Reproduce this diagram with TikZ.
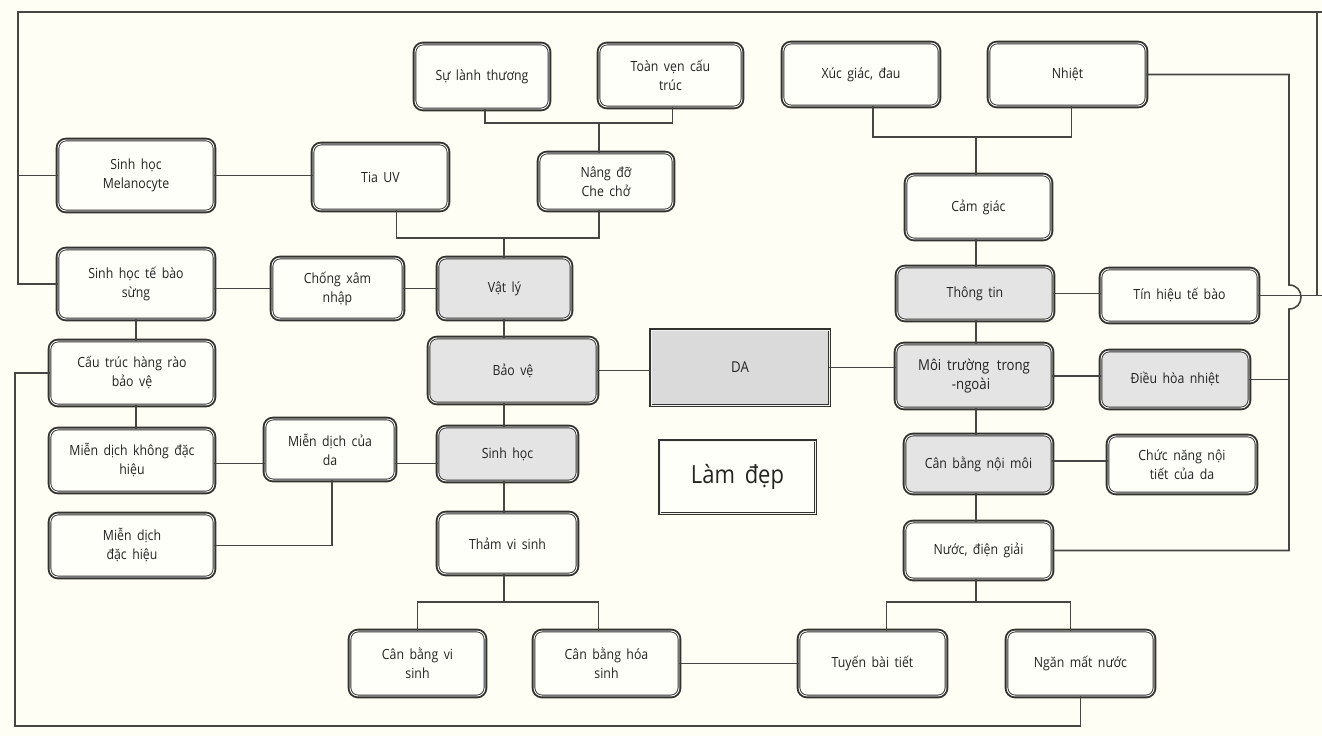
\documentclass[tikz,border=0pt]{standalone}
\usepackage{fontspec}
\setmainfont{Open Sans}[FakeStretch=0.88,WordSpace=1.7]
\definecolor{bgc}{RGB}{255,254,244}
\definecolor{linec}{RGB}{70,70,66}
\definecolor{boxc}{RGB}{50,50,47}
\definecolor{greyf}{RGB}{228,228,228}
\definecolor{daf}{RGB}{218,218,218}
\definecolor{txt}{RGB}{35,35,35}
\begin{document}
\begin{tikzpicture}[x=1pt,y=-1pt,
  box/.style={draw=boxc,line width=0.9pt,double=white!90!gray,double distance=0.9pt,
    preaction={draw=boxc,line width=4.6pt},
    rounded corners=8pt,fill=white!98!yellow,align=center,inner sep=2pt,
    font=\fontsize{14}{19}\selectfont,text=txt},
  gbox/.style={box,fill=greyf},
  sqbox/.style={box,rounded corners=0pt},
  conn/.style={draw=linec,line width=1.6pt}]
\useasboundingbox (0,0) rectangle (1322,736);
\fill[bgc] (0,0) rectangle (1322,736);

% nodes
\node[box,minimum width=134pt,minimum height=65pt] (sl) at (482,76.5) {Sự lành thương};
\node[box,minimum width=143pt,minimum height=63pt] (tv) at (670.5,75.5) {Toàn vẹn cấu\\trúc};
\node[box,minimum width=156pt,minimum height=63pt] (xg) at (861,74.5) {Xúc giác, đau};
\node[box,minimum width=157pt,minimum height=63pt] (nh) at (1067.5,74.5) {Nhiệt};
\node[box,minimum width=156pt,minimum height=71pt] (mel) at (136,175.5) {Sinh học\\Melanocyte};
\node[box,minimum width=135pt,minimum height=66pt] (uv) at (380.5,177) {Tia UV};
\node[box,minimum width=134pt,minimum height=57pt] (nd) at (606,181.5) {Nâng đỡ\\Che chở};
\node[box,minimum width=145pt,minimum height=64pt] (cg) at (978.5,207) {Cảm giác};
\node[box,minimum width=156pt,minimum height=70pt] (ker) at (136,284) {Sinh học tế bào\\sừng};
\node[box,minimum width=131pt,minimum height=61pt] (cx) at (337.5,288.5) {Chống xâm\\nhập};
\node[gbox,minimum width=133pt,minimum height=61pt] (vl) at (504.5,288.5) {Vật lý};
\node[gbox,minimum width=156pt,minimum height=53pt] (tt) at (975,293.5) {Thông tin};
\node[box,minimum width=157pt,minimum height=53pt] (th) at (1179.5,295.5) {Tín hiệu tế bào};
\node[box,minimum width=164pt,minimum height=64pt] (hr) at (132,373) {Cấu trúc hàng rào\\bảo vệ};
\node[gbox,minimum width=168pt,minimum height=65pt] (bv) at (513,370.5) {Bảo vệ};
\node[sqbox,fill=daf,minimum width=178pt,minimum height=75pt,font=\fontsize{15}{18}\selectfont] (da) at (740,367.5) {DA};
\node[gbox,minimum width=156pt,minimum height=64pt,font=\fontsize{15}{19}\selectfont] (mt) at (974,376) {Môi trường\enspace trong\\\hspace*{-6pt}-ngoài};
\node[gbox,minimum width=148pt,minimum height=57pt] (dh) at (1175,379.5) {Điều hòa nhiệt};
\node[box,minimum width=164pt,minimum height=63pt] (mk) at (132,460.5) {Miễn dịch không đặc\\hiệu};
\node[box,minimum width=130pt,minimum height=61pt] (mdd) at (330,449.5) {Miễn dịch của\\da};
\node[gbox,minimum width=139pt,minimum height=54pt] (sh) at (507.5,454) {Sinh học};
\node[sqbox,minimum width=155pt,minimum height=72pt,font=\fontsize{25}{30}\selectfont] (ld) at (737.5,477) {Làm đẹp};
\node[gbox,minimum width=147pt,minimum height=58pt] (cbn) at (978.5,464) {Cân bằng nội môi};
\node[box,minimum width=148pt,minimum height=57pt] (cn) at (1182,464.5) {Chức năng nội\\tiết của da};
\node[box,minimum width=164pt,minimum height=63pt] (mdh) at (132,545.5) {Miễn dịch\\đặc hiệu};
\node[box,minimum width=139pt,minimum height=61pt] (tvs) at (507.5,543.5) {Thảm vi sinh};
\node[box,minimum width=147pt,minimum height=57pt] (nd2) at (978.5,550.5) {Nước, điện giải};
\node[box,minimum width=135pt,minimum height=65pt] (cbv) at (417.5,663.5) {Cân bằng vi\\sinh};
\node[box,minimum width=145pt,minimum height=65pt] (cbh) at (606.5,663.5) {Cân bằng hóa\\sinh};
\node[box,minimum width=147pt,minimum height=65pt] (tbt) at (872.5,663.5) {Tuyến bài tiết};
\node[box,minimum width=147pt,minimum height=65pt] (nmn) at (1080.5,663.5) {Ngăn mất nước};

% junction coordinates
\coordinate (j1) at (599,123);
\coordinate (j2) at (504,238);
\coordinate (j3) at (976,137);
\coordinate (j4) at (504,602);
\coordinate (j5) at (976,602);
\coordinate (L1) at (18,12);
\coordinate (R0) at (1322,12);
\coordinate (R1) at (1289,0);
\coordinate (R2) at (1317,12);
\coordinate (B1) at (15,726);
\coordinate (bA) at (1289,285);
\coordinate (bB) at (1289,309);
\coordinate (RE) at (1322,0);

% tree connectors
\draw[conn] ([xshift=3pt]sl.south) |- (j1) -| ([xshift=2pt]tv.south);
\draw[conn] (j1) -- (j1 |- nd.north);
\draw[conn] ([xshift=16pt]uv.south) |- (j2) -| ([xshift=-7pt]nd.south);
\draw[conn] (j2) -- (j2 |- vl.north);
\draw[conn] ([xshift=12pt]xg.south) |- (j3) -| ([xshift=4pt]nh.south);
\draw[conn] (j3) -- (j3 |- cg.north);
\draw[conn] (cbv.north) |- (j4) -| ([xshift=-8pt]cbh.north);
\draw[conn] (j4) -- (j4 |- tvs.south);
\draw[conn] ([xshift=14pt]tbt.north) |- (j5) -| ([xshift=-10pt]nmn.north);
\draw[conn] (j5) -- (j5 |- nd2.south);

% horizontal connectors
\draw[conn] (mel.east) -- (mel.east -| uv.west);
\draw[conn] (cx.west -| ker.east) -- (cx.west);
\draw[conn] (cx.east) -- (cx.east -| vl.west);
\draw[conn] (bv.east) -- (bv.east -| da.west);
\draw[conn] (da.east) -- (da.east -| mt.west);
\draw[conn] ([yshift=-3pt]mk.east) -- ([yshift=-3pt]mk.east -| mdd.west);
\draw[conn] ([yshift=-3pt]mk.east -| mdd.east) -- ([yshift=-3pt]mk.east -| sh.west);
\draw[conn] (tt.east) -- (tt.east -| th.west);
\draw[conn] (mt.east) -- (mt.east -| dh.west);
\draw[conn] ([yshift=3pt]cbn.east) -- ([yshift=3pt]cbn.east -| cn.west);
\draw[conn] (cbh.east) -- (cbh.east -| tbt.west);

% vertical connectors
\draw[conn] (ker.south) -- (ker.south |- hr.north);
\draw[conn] (ker.south |- hr.south) -- (ker.south |- mk.north);
\draw[conn] (j2 |- vl.south) -- (j2 |- bv.north);
\draw[conn] (j2 |- bv.south) -- (j2 |- sh.north);
\draw[conn] (j2 |- sh.south) -- (j2 |- tvs.north);
\draw[conn] (j3 |- cg.south) -- (j3 |- tt.north);
\draw[conn] (j3 |- tt.south) -- (j3 |- mt.north);
\draw[conn] (j3 |- mt.south) -- (j3 |- cbn.north);
\draw[conn] (j3 |- cbn.south) -- (j3 |- nd2.north);
\draw[conn] ([xshift=2pt]mdd.south) |- (mdh.east);

% outer loops
\draw[conn] (ker.west) -| (L1) -- (R0);
\draw[conn] (mel.west) -- (mel.west -| L1);
\draw[conn] (R2) -- (R2 |- th.east);
\draw[conn] (th.east) -- (th.east -| RE);
\draw[conn] (nh.east) -| (bA) .. controls (1305,285) and (1305,309) .. (bB) |- (nd2.east);
\draw[conn] (dh.east) -- (dh.east -| R1);
\draw[conn] (nmn.south) |- (B1) |- (hr.west);
\end{tikzpicture}
\end{document}
